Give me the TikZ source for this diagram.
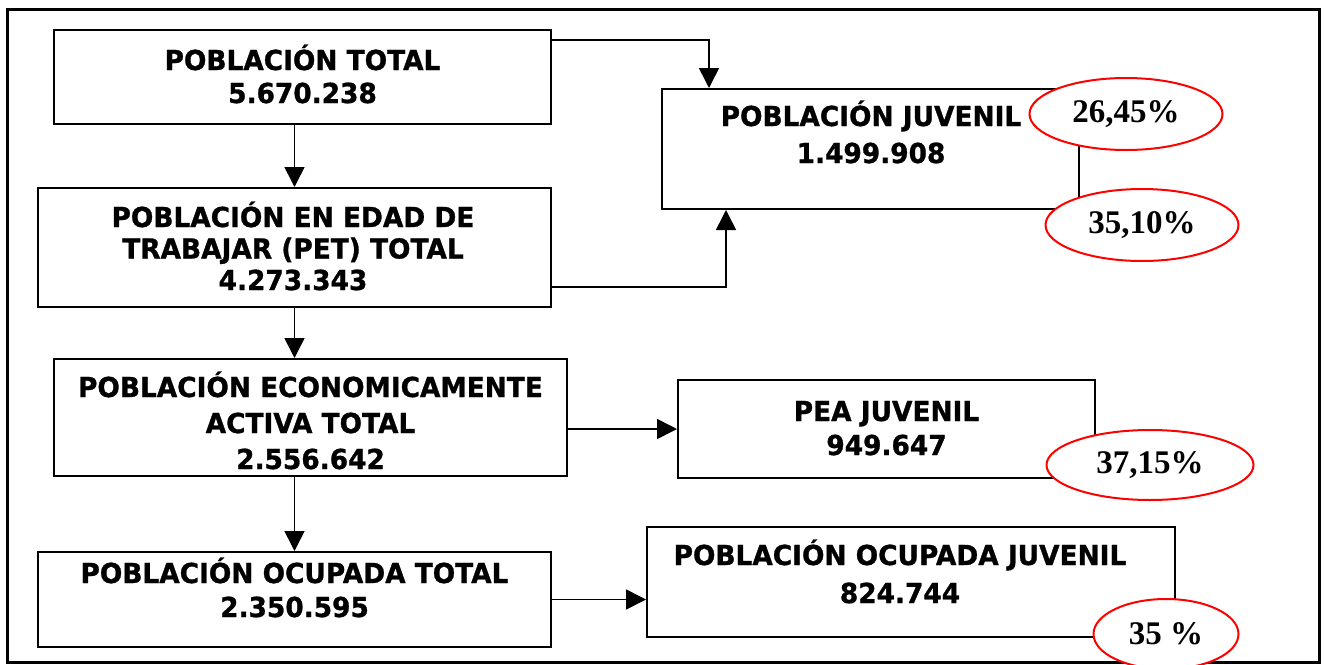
\documentclass[tikz,border=0pt]{standalone}
\usepackage{fontspec}
\usetikzlibrary{arrows.meta,shapes.geometric}
\newfontfamily\tahfont[FakeStretch=0.96,FakeBold=1]{DejaVu Sans}
\newfontfamily\timesfont{Liberation Serif}
\tikzset{
  frame/.style={line width=3pt},
  box/.style={draw, line width=2pt, inner sep=0pt, rectangle},
  txt/.style={font=\tahfont\bfseries\fontsize{27.5}{#1}\selectfont, align=center, inner sep=0pt, anchor=base},
  pct/.style={ellipse, draw=red, line width=2pt, fill=white, inner sep=0pt,
    font=\timesfont\bfseries\fontsize{33}{36}\selectfont},
  arr/.style={line width=1.6pt, -{Triangle[width=20pt,length=20pt]}},
}
\begin{document}
\begin{tikzpicture}[x=1pt,y=-1pt]
\useasboundingbox (0,0) rectangle (1325,664);
\fill[white] (0,0) rectangle (1325,664);
\draw[frame] (7,9) rectangle (1319,662);
% boxes
\node[box, minimum width=497pt, minimum height=94pt]  (A) at (302.5,77) {};
\node[box, minimum width=417pt, minimum height=120pt] (J) at (870.5,149) {};
\node[box, minimum width=513pt, minimum height=119pt] (B) at (294.5,247.5) {};
\node[box, minimum width=513pt, minimum height=117pt] (C) at (310.5,417.5) {};
\node[box, minimum width=417pt, minimum height=98pt]  (P) at (886.5,429) {};
\node[box, minimum width=513pt, minimum height=95pt]  (D) at (294.5,599.5) {};
\node[box, minimum width=528pt, minimum height=110pt] (O) at (911,582) {};
% texts (anchored at the baseline of the last line)
\node[txt=33] (At) at (302.5,103) {POBLACIÓN TOTAL\\5.670.238};
\node[txt=37] (Jt) at (871,163) {POBLACIÓN JUVENIL\\1.499.908};
\node[txt=31.5] (Bt) at (293,290) {POBLACIÓN EN EDAD DE\\TRABAJAR (PET) TOTAL\\4.273.343};
\node[txt=36] (Ct) at (310.5,469) {POBLACIÓN ECONOMICAMENTE\\ACTIVA TOTAL\\2.556.642};
\node[txt=34] (Pt) at (886.5,455) {PEA JUVENIL\\949.647};
\node[txt=34] (Dt) at (294.5,617) {POBLACIÓN OCUPADA TOTAL\\2.350.595};
\node[txt=38] (Ot) at (900,603) {POBLACIÓN OCUPADA JUVENIL\\824.744};
% connectors
\draw[arr] ([yshift=-11pt]A.north east) -| ([xshift=48pt]J.north west);
\draw[arr] ([yshift=21pt]B.south east) -| ([xshift=65pt]J.south west);
\draw[arr] (B.north |- A.south) -- (B.north);
\draw[arr] (B.south) -- (B.south |- C.north);
\draw[arr] (D.north |- C.south) -- (D.north);
\draw[arr] (C.east |- P.west) -- (P.west);
\draw[arr] (D.east) -- (D.east -| O.west);
% percentages
\node[pct, minimum width=193pt, minimum height=72pt] (e1) at (1126,114) {26,45\%};
\node[pct, minimum width=193pt, minimum height=72pt] (e2) at (1142,225) {35,10\%};
\node[pct, minimum width=207pt, minimum height=70pt] (e3) at (1150,465) {37,15\%};
\node[pct, minimum width=145pt, minimum height=70pt] (e4) at (1166,634) {35 \%};
\end{tikzpicture}
\end{document}
